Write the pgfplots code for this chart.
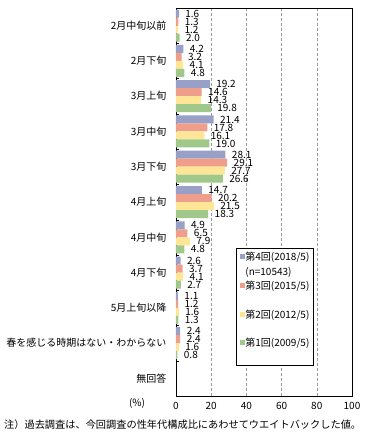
\documentclass[border=0pt]{standalone}
\usepackage{fontspec}
\setmainfont{Noto Sans CJK JP}
\usepackage{pgfplots}
\pgfplotsset{compat=1.18}
\definecolor{c4}{RGB}{153,160,200}
\definecolor{c3}{RGB}{238,158,138}
\definecolor{c2}{RGB}{255,229,150}
\definecolor{c1}{RGB}{160,200,138}
\begin{document}
\begin{tikzpicture}[x=1pt,y=1pt]
\useasboundingbox (0,0) rectangle (366,434);
\begin{axis}[
  at={(176pt,38pt)}, anchor=south west,
  width=176pt, height=388pt, scale only axis,
  xmin=0, xmax=100, ymin=-0.5, ymax=10.5, y dir=reverse,
  xtick={0,20,...,100}, ytick={0,...,10},
  yticklabels={2月中旬以前,2月下旬,3月上旬,3月中旬,3月下旬,4月上旬,4月中旬,4月下旬,5月上旬以降,春を感じる時期はない・わからない,無回答},
  major tick length=0pt,
  ytick pos=left, xtick pos=bottom,
  extra y ticks={0.5,1.5,...,9.5}, extra y tick labels={},
  extra y tick style={grid=none, major tick length=3pt, tick align=inside, tick style={black}},
  xmajorgrids, grid style={densely dashed, gray!80},
  axis line style={black, line width=0.8pt},
  /pgf/number format/assume math mode=true,
  xticklabel style={font=\fontsize{10}{12}\selectfont, yshift=-3pt},
  yticklabel style={font=\fontsize{10}{12}\selectfont, xshift=-6pt},
  xbar, bar width=8pt,
  nodes near coords={\pgfmathprintnumber[fixed,fixed zerofill,precision=1,assume math mode=true]{\pgfplotspointmeta}},
  every node near coord/.append style={anchor=west, xshift=3pt, font=\fontsize{10}{12}\selectfont, black},
  legend image code/.code={\fill[#1] (0pt,-2.5pt) rectangle (5pt,2.5pt);},
  legend style={at={(axis description cs:0.341,0.382)}, anchor=north west, draw=black, line width=0.8pt,
    font=\fontsize{10}{12}\selectfont, row sep=0pt, inner xsep=4pt, inner ysep=1.5pt,
    nodes={inner sep=0pt, text height=11.3pt, text depth=3pt, line width=0.4pt}},
  legend cell align=left,
]
\addplot[fill=c4, draw=none, bar shift=12pt, forget plot] coordinates {(1.6,0) (4.2,1) (19.2,2) (21.4,3) (28.1,4) (14.7,5) (4.9,6) (2.6,7) (1.1,8) (2.4,9)};
\addplot[fill=c3, draw=none, bar shift=4pt, forget plot] coordinates {(1.3,0) (3.2,1) (14.6,2) (17.8,3) (29.1,4) (20.2,5) (6.5,6) (3.7,7) (1.2,8) (2.4,9)};
\addplot[fill=c2, draw=none, bar shift=-4pt, forget plot] coordinates {(1.2,0) (4.1,1) (14.3,2) (16.1,3) (27.7,4) (21.5,5) (7.9,6) (4.1,7) (1.6,8) (1.6,9)};
\addplot[fill=c1, draw=none, bar shift=-12pt, forget plot] coordinates {(2.0,0) (4.8,1) (19.8,2) (19.0,3) (26.6,4) (18.3,5) (4.8,6) (2.7,7) (1.3,8) (0.8,9)};
\addlegendimage{fill=c4, draw=none}\addlegendentry{第4回(2018/5)}
\addlegendimage{empty legend}\addlegendentry{(n=10543)}
\addlegendimage{fill=c3, draw=none}\addlegendentry{第3回(2015/5)}
\addlegendimage{empty legend}\addlegendentry{}
\addlegendimage{fill=c2, draw=none}\addlegendentry{第2回(2012/5)}
\addlegendimage{empty legend}\addlegendentry{}
\addlegendimage{fill=c1, draw=none}\addlegendentry{第1回(2009/5)}
\addlegendimage{empty legend}\addlegendentry{}
\end{axis}
\node[font=\fontsize{10}{12}\selectfont] at (137,31) {(\%)};
\node[anchor=west, font=\fontsize{10.2}{12}\selectfont, inner sep=0pt] at (4,9) {注）過去調査は、今回調査の性年代構成比にあわせてウエイトバックした値。};
\end{tikzpicture}
\end{document}
